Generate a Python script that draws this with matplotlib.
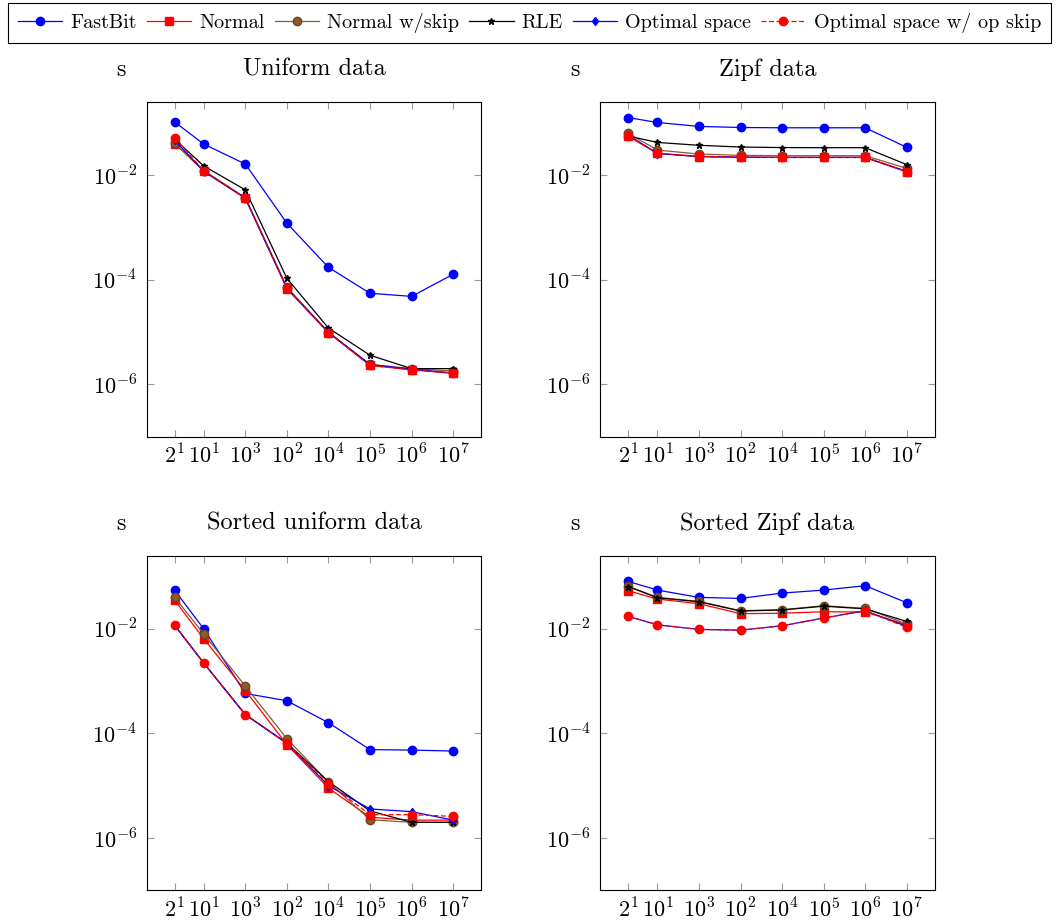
import numpy as np
import matplotlib
matplotlib.use("Agg")
import matplotlib.pyplot as plt
from matplotlib.ticker import NullLocator

plt.rcParams['font.family'] = 'serif'
plt.rcParams['font.serif'] = ['cmr10', 'DejaVu Serif']
plt.rcParams['mathtext.fontset'] = 'cm'
plt.rcParams['axes.unicode_minus'] = False

# x positions (number of distinct values) and the tick labels as printed
X_VALUES = [2, 1e1, 1e2, 1e3, 1e4, 1e5, 1e6, 1e7]
X_LABELS = [r'$2^1$', r'$10^1$', r'$10^3$', r'$10^2$', r'$10^4$', r'$10^5$', r'$10^6$', r'$10^7$']

SERIES = ["FastBit", "Normal", "Normal w/skip", "RLE", "Optimal space", "Optimal space w/ op skip"]

# query times in seconds, one list per series
uniform_fastbit = [0.103, 0.039, 0.0162, 1.2e-3, 1.72e-4, 5.5e-5, 4.8e-5, 1.27e-4]
uniform_normal = [0.040, 0.0119, 3.6e-3, 6.7e-5, 9.7e-6, 2.3e-6, 1.9e-6, 1.62e-6]
uniform_normal_skip = [0.041, 0.0122, 3.7e-3, 7.2e-5, 1.0e-5, 2.4e-6, 2.0e-6, 1.8e-6]
uniform_rle = [0.048, 0.0149, 5.2e-3, 1.06e-4, 1.19e-5, 3.6e-6, 2.0e-6, 2.0e-6]
uniform_opt = [0.046, 0.0117, 3.6e-3, 6.9e-5, 9.8e-6, 2.4e-6, 1.95e-6, 1.65e-6]
uniform_opt_skip = [0.052, 0.0120, 3.6e-3, 6.8e-5, 9.7e-6, 2.3e-6, 1.9e-6, 1.65e-6]

zipf_fastbit = [0.125, 0.101, 0.085, 0.081, 0.080, 0.080, 0.080, 0.0338]
zipf_normal = [0.0548, 0.026, 0.0224, 0.0218, 0.0217, 0.0217, 0.0217, 0.0114]
zipf_normal_skip = [0.0625, 0.030, 0.0252, 0.0238, 0.0234, 0.0234, 0.0234, 0.0134]
zipf_rle = [0.0556, 0.042, 0.037, 0.0343, 0.0335, 0.0333, 0.0333, 0.0158]
zipf_opt = [0.058, 0.0258, 0.0226, 0.0220, 0.0217, 0.0217, 0.0217, 0.0118]
zipf_opt_skip = [0.0556, 0.026, 0.0228, 0.0220, 0.0218, 0.0218, 0.0218, 0.0116]

sorted_uniform_fastbit = [0.054, 9.9e-3, 5.8e-4, 4.2e-4, 1.6e-4, 4.9e-5, 4.8e-5, 4.6e-5]
sorted_uniform_normal = [0.0348, 6.4e-3, 6.6e-4, 6.1e-5, 9.0e-6, 2.5e-6, 2.2e-6, 2.2e-6]
sorted_uniform_normal_skip = [0.0397, 7.9e-3, 8.0e-4, 7.9e-5, 1.17e-5, 2.24e-6, 2.0e-6, 2.0e-6]
sorted_uniform_rle = [0.0116, 2.2e-3, 2.3e-4, 6.5e-5, 1.2e-5, 3.3e-6, 2.0e-6, 2.0e-6]
sorted_uniform_opt = [0.0116, 2.2e-3, 2.27e-4, 6.45e-5, 1.0e-5, 3.6e-6, 3.2e-6, 2.2e-6]
sorted_uniform_opt_skip = [0.0116, 2.2e-3, 2.27e-4, 6.45e-5, 1.1e-5, 2.8e-6, 2.8e-6, 2.6e-6]

sorted_zipf_fastbit = [0.080, 0.0548, 0.0397, 0.038, 0.048, 0.0548, 0.0664, 0.0314]
sorted_zipf_normal = [0.0532, 0.0369, 0.0301, 0.0194, 0.0198, 0.0211, 0.0209, 0.0119]
sorted_zipf_normal_skip = [0.0644, 0.0397, 0.0333, 0.0221, 0.0231, 0.0275, 0.0245, 0.0123]
sorted_zipf_rle = [0.0640, 0.0390, 0.0328, 0.0218, 0.0228, 0.0270, 0.0240, 0.0138]
sorted_zipf_opt = [0.0172, 0.0119, 9.7e-3, 9.4e-3, 0.0114, 0.016, 0.0221, 0.0111]
sorted_zipf_opt_skip = [0.0172, 0.0119, 9.7e-3, 9.4e-3, 0.0114, 0.016, 0.0221, 0.0106]

PANELS = [
    ("Uniform data", [uniform_fastbit, uniform_normal, uniform_normal_skip,
                      uniform_rle, uniform_opt, uniform_opt_skip]),
    ("Zipf data", [zipf_fastbit, zipf_normal, zipf_normal_skip,
                   zipf_rle, zipf_opt, zipf_opt_skip]),
    ("Sorted uniform data", [sorted_uniform_fastbit, sorted_uniform_normal, sorted_uniform_normal_skip,
                             sorted_uniform_rle, sorted_uniform_opt, sorted_uniform_opt_skip]),
    ("Sorted Zipf data", [sorted_zipf_fastbit, sorted_zipf_normal, sorted_zipf_normal_skip,
                          sorted_zipf_rle, sorted_zipf_opt, sorted_zipf_opt_skip]),
]

BROWN = '#8c5a2b'
STYLES = [
    dict(color='blue', marker='o', ms=6, ls='-'),
    dict(color='red', marker='s', ms=5.2, ls='-'),
    dict(color=BROWN, marker='o', ms=6, ls='-', mec='#6b4320'),
    dict(color='black', marker='*', ms=5, ls='-'),
    dict(color='blue', marker='d', ms=4.5, ls='-'),
    dict(color='red', marker='o', ms=6, ls=(0, (4, 2))),
]

fig = plt.figure(figsize=(10.59, 9.21), dpi=100)
W, H = 1059, 921
boxes = [(146.7, 102.3), (600.3, 102.3), (146.7, 556.0), (600.3, 556.0)]
aw, ah = 334.5, 334.4

handles = []
for (title, data), (left, top) in zip(PANELS, boxes):
    ax = fig.add_axes([left / W, 1 - (top + ah) / H, aw / W, ah / H])
    hs = []
    for vals, st in zip(data, STYLES):
        h, = ax.plot(X_VALUES, vals, lw=0.9, **st)
        hs.append(h)
    handles = hs
    ax.set_xscale('log')
    ax.set_yscale('log')
    ax.set_xlim(10 ** -0.374, 10 ** 7.675)
    ax.set_ylim(1e-7, 10 ** -0.61)
    ax.set_xticks(X_VALUES)
    ax.set_xticklabels(X_LABELS)
    ax.set_yticks([1e-6, 1e-4, 1e-2])
    ax.set_yticklabels([r'$10^{-6}$', r'$10^{-4}$', r'$10^{-2}$'])
    ax.xaxis.set_minor_locator(NullLocator())
    ax.yaxis.set_minor_locator(NullLocator())
    ax.tick_params(direction='in', length=5, width=0.8, color='#999999',
                   top=True, right=True, labelsize=16)
    ax.tick_params(axis='y', pad=7)
    ax.tick_params(axis='x', pad=5)
    for sp in ax.spines.values():
        sp.set_linewidth(0.8)
    ax.text(0.5, 1.097, title, transform=ax.transAxes, ha='center', va='center', fontsize=17.5)
    ax.text(-0.077, 1.097, 's', transform=ax.transAxes, ha='center', va='center', fontsize=17.5)

leg = fig.legend(handles, SERIES, loc='upper center', ncol=6,
                 bbox_to_anchor=(0.5, 1 - 3 / H),
                 fancybox=False, edgecolor='black', framealpha=1,
                 fontsize=14.5, handlelength=2.2, handletextpad=0.4,
                 columnspacing=0.5, borderaxespad=0, borderpad=0.5)
leg.get_frame().set_linewidth(0.8)

fig.savefig("out.png", dpi=100)
